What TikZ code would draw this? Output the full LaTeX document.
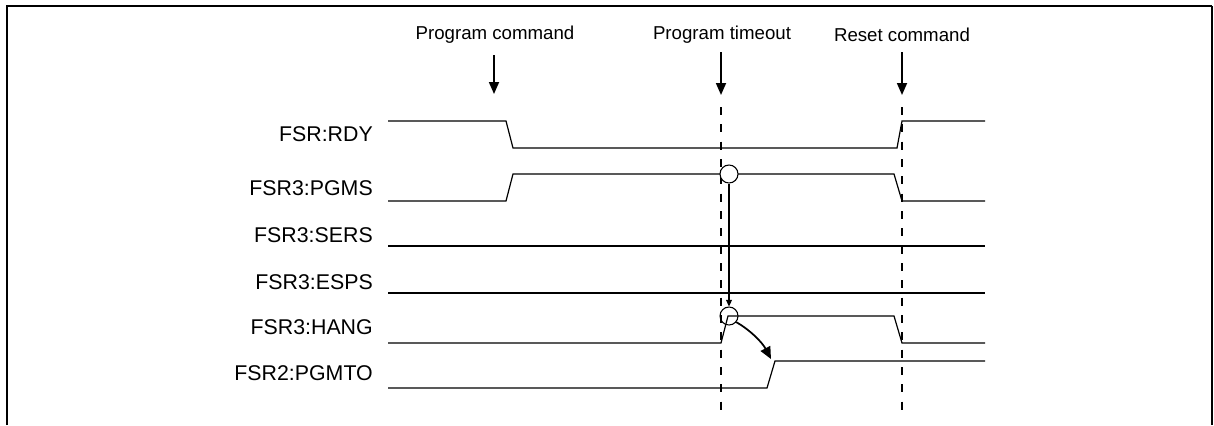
\documentclass[tikz,border=0pt]{standalone}
\usepackage{fontspec}
\setmainfont{Liberation Sans}
\usetikzlibrary{arrows.meta}
\begin{document}
\begin{tikzpicture}[x=0.75pt,y=-0.75pt,
  sig/.style={line width=0.9pt, line join=miter},
  lbl/.style={font=\fontsize{16}{18}\selectfont, anchor=east, inner sep=0pt},
  evt/.style={font=\fontsize{14}{16}\selectfont, inner sep=0pt},
  guide/.style={line width=0.8pt, dash pattern=on 6pt off 7pt},
  evarrow/.style={line width=1.3pt, -{Triangle[length=9pt,width=7.5pt]}},
  markc/.style={circle, draw, line width=0.8pt, minimum size=13.5pt, inner sep=0pt, fill=white},
  link/.style={line width=0.9pt, -{Triangle[length=5pt,width=4.5pt]}},
  curv/.style={line width=1.3pt, -{Triangle[length=9pt,width=8pt]}}]
\useasboundingbox (0,0) rectangle (1214,425);
% frame
\draw[line width=2.2pt] (7,425) -- (7,6) -- (1212,6);
\draw[line width=1pt] (1212,6) -- (1212,425);
% event labels and arrows
\node[evt] (tpc) at (495,35) {Program command};
\node[evt] (tpt) at (722,35) {Program timeout};
\node[evt] (trc) at (902,35) {Reset command};
\coordinate (a1s) at (494,55); \coordinate (a1e) at (494,94);
\coordinate (a2s) at (721,52); \coordinate (a2e) at (721,95);
\coordinate (a3s) at (902,52); \coordinate (a3e) at (902,95);
\draw[evarrow] (a1s) -- (a1e);
\draw[evarrow] (a2s) -- (a2e);
\draw[evarrow] (a3s) -- (a3e);
% dashed guides
\coordinate (g1s) at (721,107); \coordinate (g1e) at (721,410);
\coordinate (g2s) at (902,107); \coordinate (g2e) at (902,410);
\draw[guide] (g1s) -- (g1e);
\draw[guide] (g2s) -- (g2e);
% signal labels
\node[lbl] (lrdy)  at (373,134) {FSR:RDY};
\node[lbl] (lpgms) at (373,188) {FSR3:PGMS};
\node[lbl] (lsers) at (373,235) {FSR3:SERS};
\node[lbl] (lesps) at (373,282) {FSR3:ESPS};
\node[lbl] (lhang) at (373,327) {FSR3:HANG};
\node[lbl] (lpgmto) at (373,373) {FSR2:PGMTO};
% waveforms
\draw[sig] (388,121) -- (506,121) -- (513,148) -- (897,148) -- (902,121) -- (985,121);
\draw[sig] (388,201) -- (506,201) -- (513,174) -- (894,174) -- (902,201) -- (985,201);
\draw[sig] (388,246) -- (985,246);
\draw[sig] (388,293) -- (985,293);
\draw[sig] (388,343) -- (721,343) -- (728,316) -- (894,316) -- (902,343) -- (985,343);
\draw[sig] (388,388) -- (767,388) -- (775,361) -- (985,361);
% markers
\node[markc] (c1) at (729,174) {};
\node[markc, fill=none] (c2) at (729,316) {};
\draw[link] (c1.south) -- (c2.north);
\draw[curv] (c2.-40) .. controls (750,330) and (762,342) .. (771,359);
\end{tikzpicture}
\end{document}
